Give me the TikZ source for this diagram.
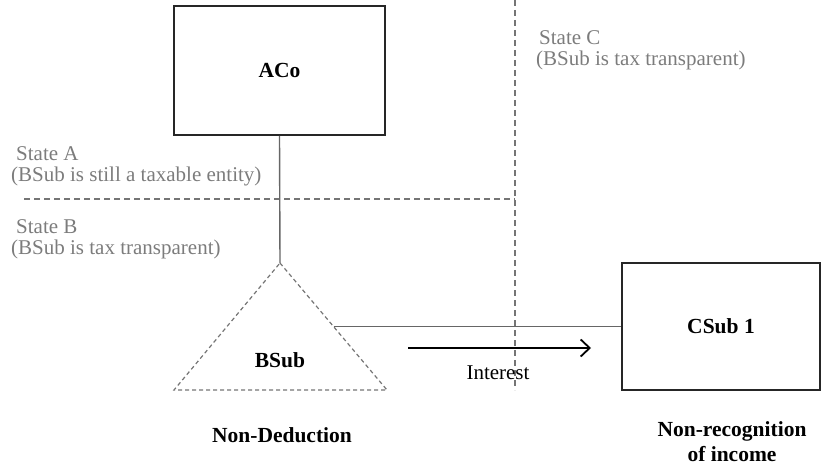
\documentclass[tikz,border=0pt]{standalone}
\usepackage{fontspec}
\setmainfont{Liberation Serif}
\usetikzlibrary{arrows.meta,calc}
\definecolor{labelgray}{HTML}{7C7C7C}
\definecolor{linegray}{HTML}{666666}
\definecolor{dashgray}{HTML}{757575}
\definecolor{boxline}{HTML}{262626}
\begin{document}
\begin{tikzpicture}[x=1pt,y=-1pt,
  entity/.style={draw=boxline,line width=1.8pt,rectangle,inner sep=0pt,
    font=\fontsize{21.5}{23}\selectfont\bfseries},
  statelabel/.style={text=labelgray,align=left,inner sep=0pt,
    font=\fontsize{21}{21.5}\selectfont},
  outcome/.style={align=center,inner sep=0pt,
    font=\fontsize{21.5}{25}\selectfont\bfseries},
  border/.style={draw=dashgray,line width=1.2pt,dash pattern=on 6pt off 4pt},
  link/.style={draw=linegray,line width=1.4pt},
  flow/.style={draw=black,line width=1.8pt,-{Straight Barb[length=9pt,width=17pt,line width=1.8pt]}}]
  \useasboundingbox (0,0) rectangle (822,465);

  % state borders
  \coordinate (vtop) at (515,0);
  \coordinate (vbot) at (515,390);
  \coordinate (hleft) at (24,199);
  \coordinate (hright) at (515,199);
  \draw[border] (vtop) -- (vbot);
  \draw[border] (hleft) -- (hright);

  % state labels
  \node[statelabel,anchor=north west] (stA) at (11,146) {\hspace*{5pt}State A\\(BSub is still a taxable entity)};
  \node[statelabel,anchor=north west] (stB) at (11,219) {\hspace*{5pt}State B\\(BSub is tax transparent)};
  \node[statelabel,anchor=north west] (stC) at (536,30) {\hspace*{3pt}State C\\(BSub is tax transparent)};

  % entities
  \node[entity,minimum width=211pt,minimum height=129pt] (aco) at (279.5,70.5) {ACo};
  \node[entity,minimum width=198pt,minimum height=127pt] (csub) at (721,326.5) {CSub 1};

  % transparent subsidiary
  \coordinate (apex) at (280,263);
  \coordinate (bl) at (174,390);
  \coordinate (br) at (387,390);
  \draw[draw=dashgray,line width=1.2pt,dash pattern=on 4pt off 3pt] (apex) -- (br) -- (bl) -- cycle;
  \node[font=\fontsize{21.5}{23}\selectfont\bfseries,inner sep=0pt] (bsub) at (280,360) {BSub};
  \coordinate (bmid) at ($(apex)!0.5!(br)$);

  % ownership links
  \draw[link] (aco.south) -- (apex);
  \draw[link] (bmid) -- (csub.west);

  % interest payment
  \coordinate (fstart) at (408,348);
  \coordinate (fend) at (591,348);
  \draw[flow] (fstart) -- (fend);
  \node[font=\fontsize{21}{22}\selectfont,inner sep=0pt] (interest) at (498,373) {Interest};

  % outcomes
  \node[outcome] (nded) at (282,435) {Non-Deduction};
  \node[outcome] (nrec) at (732,442) {Non-recognition\\of income};
\end{tikzpicture}
\end{document}
